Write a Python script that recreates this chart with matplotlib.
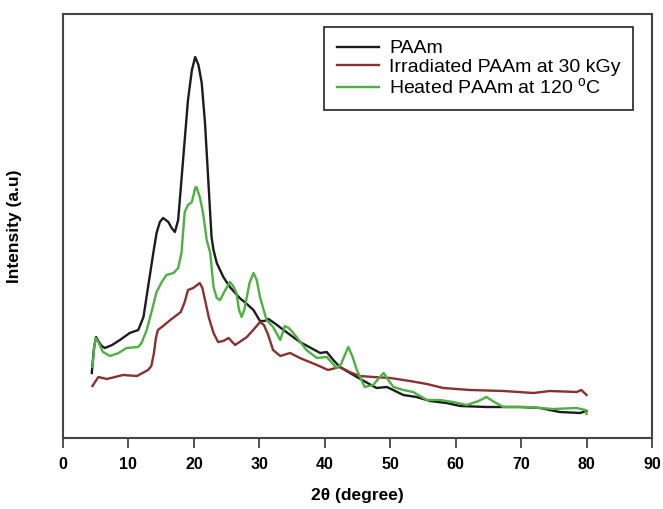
# ============================================================
# XRD PATTERNS — PAAm, IRRADIATED PAAm, HEATED PAAm
# ============================================================

import matplotlib
matplotlib.use("Agg")
import matplotlib.pyplot as plt

# ── 1. DATA ──────────────────────────────────────────────────
paam_x = [4.4, 4.7, 5.05, 5.4, 5.9, 6.4, 7.5, 8.7, 10.2, 11.5, 12.3, 13.0,
          13.8, 14.3, 14.8, 15.3, 16.1, 16.6, 17.1, 17.6, 18.1, 18.6, 19.1,
          19.7, 20.2, 20.7, 21.2, 21.7, 22.2, 22.7, 23.0, 23.5, 24.5, 25.5,
          27.0, 28.1, 29.1, 30.1, 30.8, 31.4, 32.5, 33.7, 36.2, 39.3, 40.3,
          41.3, 42.3, 44.9, 47.9, 49.5, 52.0, 54.0, 56.1, 58.6, 60.7, 64.7,
          69.8, 72.9, 75.9, 79.0, 80.0]
paam_y = [65, 88, 101, 97, 92, 90, 93, 98, 105, 108, 121, 151,
          185, 205, 216, 220, 216, 210, 206, 218, 258, 298, 338,
          368, 381, 373, 355, 315, 258, 201, 188, 175, 161, 151,
          140, 134, 128, 117, 117, 119, 114, 108, 96, 85, 86,
          78, 71, 61, 50, 51, 43, 41, 37, 35, 32, 31,
          31, 30, 26, 25, 27]

irr_x = [4.5, 5.4, 6.7, 9.2, 11.3, 13.0, 13.5, 13.9, 14.2, 14.5, 15.3, 16.4,
         17.2, 18.0, 18.6, 19.1, 19.9, 20.5, 20.9, 21.3, 21.7, 22.3, 23.0,
         23.7, 24.5, 25.3, 26.3, 27.2, 28.1, 29.2, 30.1, 30.7, 31.3, 32.1,
         33.2, 34.7, 36.2, 38.8, 40.5, 42.3, 43.8, 45.3, 47.4, 50.0, 53.0,
         55.6, 58.1, 62.2, 67.3, 71.9, 74.4, 78.5, 79.2, 80.0]
irr_y = [52, 61, 59, 63, 62, 68, 72, 85, 100, 108, 112, 118,
         122, 126, 136, 148, 150, 153, 155, 150, 138, 120, 105,
         96, 97, 100, 93, 97, 101, 109, 116, 113, 104, 88,
         82, 85, 80, 73, 68, 71, 66, 62, 61, 60, 57,
         54, 50, 48, 47, 45, 47, 46, 48, 43]

heat_x = [4.5, 4.8, 5.0, 5.4, 6.1, 7.2, 8.5, 9.7, 11.5, 12.0, 12.8, 13.6,
          14.3, 15.1, 15.8, 16.9, 17.6, 18.1, 18.6, 19.1, 19.7, 20.2, 20.4,
          20.9, 21.4, 21.96, 22.5, 23.0, 23.5, 24.0, 24.8, 25.5, 26.0, 26.5,
          26.9, 27.3, 27.7, 28.5, 29.1, 29.6, 30.1, 31.1, 32.1, 32.7, 33.2,
          33.9, 34.5, 35.2, 37.2, 38.8, 40.3, 41.8, 42.5, 43.0, 43.6, 44.2,
          44.9, 46.1, 47.4, 48.3, 49.0, 49.7, 50.5, 52.0, 53.5, 55.6, 57.6,
          59.6, 61.7, 63.5, 64.7, 65.9, 67.3, 70.9, 74.9, 78.5, 79.8, 80.0]
heat_y = [71, 92, 100, 96, 86, 82, 85, 90, 91, 95, 108, 128,
          146, 156, 163, 165, 170, 185, 226, 233, 236, 250, 251,
          241, 225, 198, 185, 151, 140, 138, 148, 156, 152, 145,
          128, 121, 128, 155, 165, 158, 141, 118, 111, 104, 98,
          112, 110, 105, 88, 80, 81, 70, 74, 82, 91, 82,
          68, 51, 53, 60, 65, 58, 51, 48, 46, 38, 38,
          36, 33, 37, 41, 36, 31, 31, 29, 30, 28, 24]

labels = ["PAAm", "Irradiated PAAm at 30 kGy",
          r"Heated PAAm at 120 $^{\mathregular{o}}$C"]
colors = ["#1c1c1c", "#8a3030", "#4db043"]
xticks = [0, 10, 20, 30, 40, 50, 60, 70, 80, 90]

# ── 2. PLOT ──────────────────────────────────────────────────
plt.rcParams["font.family"] = ["Liberation Sans", "DejaVu Sans"]

fig = plt.figure(figsize=(6.63, 5.09), dpi=100)
ax = fig.add_axes([0.095, 0.1395, 0.8884, 0.833])

series = [(paam_x, paam_y), (irr_x, irr_y), (heat_x, heat_y)]
for (xs, ys), lab, col in zip(series, labels, colors):
    ax.plot(xs, ys, color=col, lw=1.7, label=lab, solid_joinstyle="round")

ax.set_xlim(0, 90)
ax.set_ylim(0, 424)
ax.set_xticks(xticks)
ax.set_xticklabels([str(t) for t in xticks], fontsize=11.5, fontweight="bold")
ax.set_yticks([])
ax.tick_params(axis="x", direction="out", length=7, width=1.3,
               color="#444444", pad=7)

for sp in ax.spines.values():
    sp.set_color("#444444")
    sp.set_linewidth(1.5)

ax.set_xlabel("2θ (degree)", fontsize=12.5, fontweight="bold")
ax.xaxis.set_label_coords(0.5, -0.118)
ax.set_ylabel("Intensity (a.u)", fontsize=12.5, fontweight="bold")
ax.yaxis.set_label_coords(-0.07, 0.5)

leg = ax.legend(loc="upper right", bbox_to_anchor=(0.968, 0.969),
                borderaxespad=0, fontsize=14, handlelength=2.2,
                handletextpad=0.5, labelspacing=0.05, fancybox=False,
                framealpha=1, borderpad=0.65)
leg.get_frame().set_edgecolor("#222222")
leg.get_frame().set_linewidth(1.2)

fig.savefig("out.png", dpi=100)
